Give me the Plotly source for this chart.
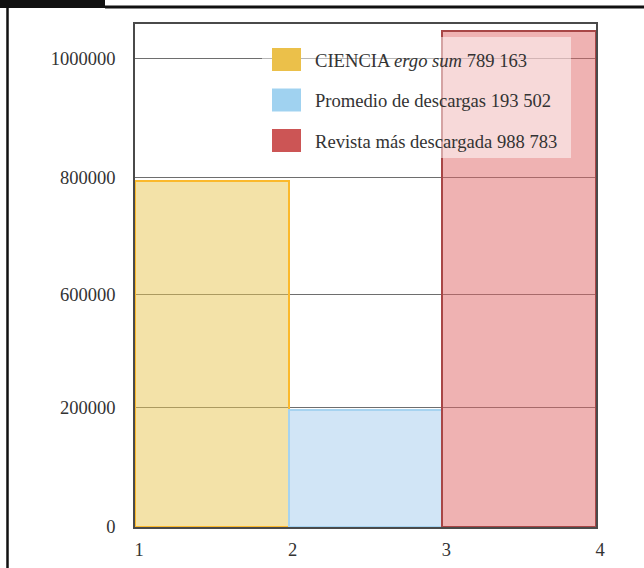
import plotly.graph_objects as go

# ---- data ----
categories = [1, 2, 3]                       # left edge of each bar on the x axis
bar_heights = [738800, 249800, 1059000]      # heights as drawn against the axis grid
series_names = ["CIENCIA <i>ergo sum</i> 789 163",
                "Promedio de descargas 193 502",
                "Revista más descargada 988 783"]
x_tick_vals = [1, 2, 3, 4]
x_tick_text = ["1", "2", "3", "4"]
y_tick_vals = [0, 255600, 495400, 746700, 1000000]   # positions of the printed gridlines
y_tick_text = ["0", "200000", "600000", "800000", "1000000"]

# ---- styles ----
fill_colors = ["rgba(231,197,81,0.5)", "rgba(163,203,237,0.5)", "rgba(223,101,101,0.5)"]
line_colors = ["#FBB92C", "#A6D3F0", "#A84646"]
swatch_colors = ["#EBC04A", "#A0D2F0", "#CC5555"]
FONT = "Liberation Serif, Times New Roman, serif"

W, H = 644, 568
ML, MR, MT, MB = 135, 48, 24, 41
PW, PH = W - ML - MR, H - MT - MB


def px(x):
    return (x - ML) / PW


def py(y):
    return (H - MB - y) / PH


fig = go.Figure()
for i in range(len(categories)):
    fig.add_trace(go.Bar(
        x=[categories[i]], y=[bar_heights[i]], width=1, offset=0,
        marker=dict(color=fill_colors[i], line=dict(color=line_colors[i], width=2)),
        showlegend=False, hoverinfo="skip"))

shapes = []
annotations = []
# legend background (semi-transparent white)
shapes.append(dict(type="rect", xref="paper", yref="paper", layer="above",
                   x0=px(262), x1=px(571), y0=py(158), y1=py(37),
                   fillcolor="rgba(255,255,255,0.5)", line=dict(width=0)))
for i, name in enumerate(series_names):
    cy = 59.5 + i * 40.5
    shapes.append(dict(type="rect", xref="paper", yref="paper", layer="above",
                       x0=px(272), x1=px(301), y0=py(cy + 11.5), y1=py(cy - 11.5),
                       fillcolor=swatch_colors[i], line=dict(width=0)))
    annotations.append(dict(text=name, xref="paper", yref="paper",
                            x=px(313), y=py(cy + 1), xanchor="left", yanchor="middle",
                            showarrow=False, font=dict(family=FONT, size=18.6, color="#333333")))

# page decoration (cropped frame of the source page)
shapes.append(dict(type="rect", xref="paper", yref="paper", layer="above",
                   x0=px(-2), x1=px(105), y0=py(8), y1=py(-2),
                   fillcolor="#111111", line=dict(width=0)))
shapes.append(dict(type="line", xref="paper", yref="paper", layer="above",
                   x0=px(105), x1=px(650), y0=py(7), y1=py(7),
                   line=dict(color="#111111", width=3)))
shapes.append(dict(type="line", xref="paper", yref="paper", layer="above",
                   x0=px(7.5), x1=px(7.5), y0=py(6), y1=py(575),
                   line=dict(color="#111111", width=2.5)))

fig.update_layout(
    width=W, height=H,
    margin=dict(l=ML, r=MR, t=MT, b=MB, autoexpand=False),
    paper_bgcolor="white", plot_bgcolor="white",
    bargap=0,
    shapes=shapes, annotations=annotations,
    font=dict(family=FONT, size=18, color="#333333"),
)
fig.update_xaxes(range=[1, 4], tickvals=x_tick_vals, ticktext=x_tick_text,
                 automargin=False, showgrid=False, zeroline=False,
                 showline=True, linecolor="#4a4a4a", linewidth=1.5, mirror=True,
                 ticks="outside", ticklen=5, tickcolor="rgba(0,0,0,0)",
                 ticklabelshift=4,
                 tickfont=dict(family=FONT, size=18.5, color="#333333"))
fig.update_yaxes(range=[0, 1074000], tickvals=y_tick_vals, ticktext=y_tick_text,
                 automargin=False, showgrid=True, gridcolor="#6e6e6e", gridwidth=1,
                 zeroline=False,
                 showline=True, linecolor="#4a4a4a", linewidth=1.5, mirror=True,
                 ticks="outside", ticklen=14, tickcolor="rgba(0,0,0,0)",
                 tickfont=dict(family=FONT, size=18.5, color="#333333"))

fig.write_html("out.html",
               config={"displayModeBar": False},
               post_script="document.body.style.margin='0px';document.body.style.overflow='hidden';")
